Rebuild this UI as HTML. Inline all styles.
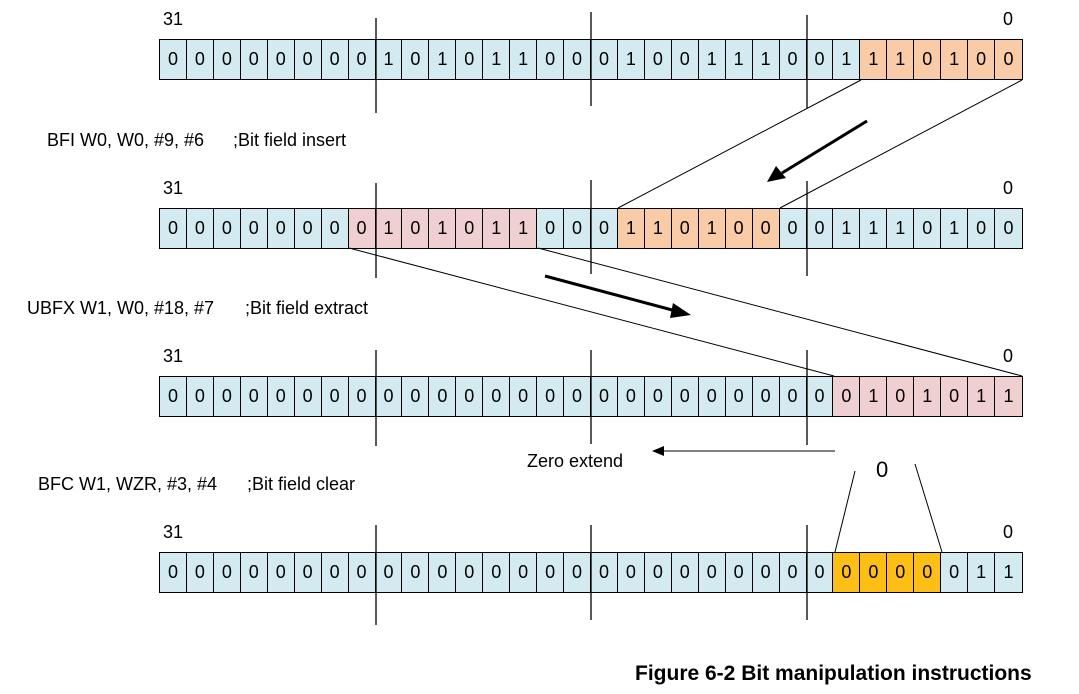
<!DOCTYPE html>
<html><head><style>
body{margin:0;width:1079px;height:694px;background:#fff;position:relative;overflow:hidden;font-family:"Liberation Sans",Arial,sans-serif;color:#000}
.row{position:absolute;left:159px;width:864px;height:41px;display:grid;grid-template-columns:repeat(32,1fr);box-sizing:border-box;border:1px solid #000}
.row span{background:#d3ebf0;border-right:1px solid #000;display:flex;align-items:center;justify-content:center;font-size:18px}
.row span:last-child{border-right:none}
.row span.o{background:#f9cba6}.row span.p{background:#f0cfd0}.row span.y{background:#fdbe16}
.t{position:absolute;font-size:18px;white-space:pre;line-height:1}
svg{position:absolute;left:0;top:0}
</style></head><body>
<div class="t" style="left:163px;top:10px">31</div><div class="t" style="left:1003px;top:10px">0</div>
<div class="row" style="top:39px"><span>0</span><span>0</span><span>0</span><span>0</span><span>0</span><span>0</span><span>0</span><span>0</span><span>1</span><span>0</span><span>1</span><span>0</span><span>1</span><span>1</span><span>0</span><span>0</span><span>0</span><span>1</span><span>0</span><span>0</span><span>1</span><span>1</span><span>1</span><span>0</span><span>0</span><span>1</span><span class="o">1</span><span class="o">1</span><span class="o">0</span><span class="o">1</span><span class="o">0</span><span class="o">0</span></div>
<div class="t" style="left:47px;top:131px">BFI W0, W0, #9, #6</div><div class="t" style="left:233px;top:131px">;Bit field insert</div>
<div class="t" style="left:163px;top:179px">31</div><div class="t" style="left:1003px;top:179px">0</div>
<div class="row" style="top:208px"><span>0</span><span>0</span><span>0</span><span>0</span><span>0</span><span>0</span><span>0</span><span class="p">0</span><span class="p">1</span><span class="p">0</span><span class="p">1</span><span class="p">0</span><span class="p">1</span><span class="p">1</span><span>0</span><span>0</span><span>0</span><span class="o">1</span><span class="o">1</span><span class="o">0</span><span class="o">1</span><span class="o">0</span><span class="o">0</span><span>0</span><span>0</span><span>1</span><span>1</span><span>1</span><span>0</span><span>1</span><span>0</span><span>0</span></div>
<div class="t" style="left:27px;top:299px">UBFX W1, W0, #18, #7</div><div class="t" style="left:245px;top:299px">;Bit field extract</div>
<div class="t" style="left:163px;top:347px">31</div><div class="t" style="left:1003px;top:347px">0</div>
<div class="row" style="top:376px"><span>0</span><span>0</span><span>0</span><span>0</span><span>0</span><span>0</span><span>0</span><span>0</span><span>0</span><span>0</span><span>0</span><span>0</span><span>0</span><span>0</span><span>0</span><span>0</span><span>0</span><span>0</span><span>0</span><span>0</span><span>0</span><span>0</span><span>0</span><span>0</span><span>0</span><span class="p">0</span><span class="p">1</span><span class="p">0</span><span class="p">1</span><span class="p">0</span><span class="p">1</span><span class="p">1</span></div>
<div class="t" style="left:527px;top:452px">Zero extend</div>
<div class="t" style="left:876px;top:459px;font-size:22px">0</div>
<div class="t" style="left:38px;top:475px">BFC W1, WZR, #3, #4</div><div class="t" style="left:247px;top:475px">;Bit field clear</div>
<div class="t" style="left:163px;top:523px">31</div><div class="t" style="left:1003px;top:523px">0</div>
<div class="row" style="top:552px"><span>0</span><span>0</span><span>0</span><span>0</span><span>0</span><span>0</span><span>0</span><span>0</span><span>0</span><span>0</span><span>0</span><span>0</span><span>0</span><span>0</span><span>0</span><span>0</span><span>0</span><span>0</span><span>0</span><span>0</span><span>0</span><span>0</span><span>0</span><span>0</span><span>0</span><span class="y">0</span><span class="y">0</span><span class="y">0</span><span class="y">0</span><span>0</span><span>1</span><span>1</span></div>
<div class="t" style="left:635px;top:663px;font-size:21px;font-weight:bold">Figure 6-2 Bit manipulation instructions</div>
<svg width="1079" height="694" stroke="#000" stroke-width="1" fill="none">
<g stroke-width="1.3">
<line x1="376" y1="18" x2="376" y2="113"/><line x1="591" y1="12" x2="591" y2="106"/><line x1="807" y1="15" x2="807" y2="108"/>
<line x1="376" y1="183" x2="376" y2="278"/><line x1="591" y1="180" x2="591" y2="274"/><line x1="807" y1="181" x2="807" y2="276"/>
<line x1="376" y1="350" x2="376" y2="446"/><line x1="591" y1="350" x2="591" y2="444"/><line x1="807" y1="350" x2="807" y2="445"/>
<line x1="376" y1="525" x2="376" y2="625"/><line x1="591" y1="525" x2="591" y2="620"/><line x1="807" y1="525" x2="807" y2="620"/>
</g>
<line x1="861" y1="80" x2="618" y2="208"/><line x1="1022" y1="80" x2="780" y2="208"/>
<line x1="349" y1="248" x2="834" y2="376"/><line x1="538" y1="248" x2="1022" y2="376"/>
<line x1="855" y1="471" x2="835" y2="552"/><line x1="915" y1="464" x2="942" y2="552"/>
<line x1="867" y1="121" x2="782" y2="173" stroke-width="3"/><polygon points="767,182 776,166 786,178" fill="#000" stroke="none"/>
<line x1="545" y1="276" x2="676" y2="311" stroke-width="3"/><polygon points="691,315 673,303 670,318" fill="#000" stroke="none"/>
<line x1="835" y1="451" x2="664" y2="451"/><polygon points="652,451 664,446 664,456" fill="#000" stroke="none"/>
</svg>
</body></html>
